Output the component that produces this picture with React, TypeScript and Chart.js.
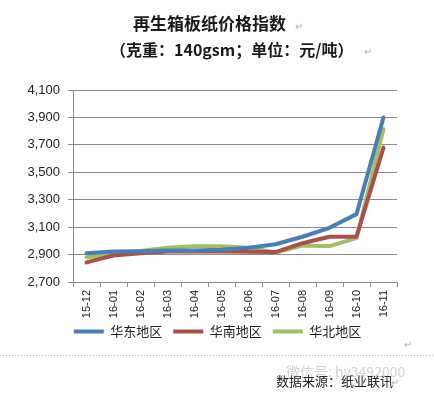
import React, { useEffect, useRef } from "react";
import { Chart, registerables } from "chart.js";

Chart.register(...registerables);

const categories = ["15-12", "16-01", "16-02", "16-03", "16-04", "16-05", "16-06", "16-07", "16-08", "16-09", "16-10", "16-11"];
const eastValues = [2910, 2922, 2925, 2930, 2930, 2935, 2950, 2975, 3030, 3095, 3195, 3900];
const southValues = [2843, 2893, 2910, 2922, 2925, 2922, 2920, 2918, 2983, 3030, 3030, 3680];
const northValues = [2880, 2902, 2927, 2950, 2960, 2960, 2950, 2915, 2965, 2962, 3020, 3815];
const seriesNames = ["华东地区", "华南地区", "华北地区"];
const titleLine1 = "再生箱板纸价格指数";
const titleLine2 = "（克重：140gsm；单位：元/吨）";
const sourceText = "数据来源：纸业联讯";
const watermarkText = "微信号: hy3492000";
const yMin = 2700;
const yMax = 4100;
const yStep = 200;

const CJK = '"Noto Sans CJK SC", "Liberation Sans", sans-serif';
const LATIN = '"Liberation Sans", Arial, sans-serif';

const decorPlugin = {
  id: "decor",
  afterLayout(chart: any) {
    const lg = chart.legend;
    if (lg) {
      lg.left += 19;
      lg.right += 19;
      lg.top -= 12;
      lg.bottom -= 12;
    }
  },
  afterDraw(chart: any) {
    const ctx = chart.ctx;
    ctx.save();
    ctx.fillStyle = "#1a1a1a";
    ctx.textBaseline = "middle";
    ctx.textAlign = "left";
    ctx.font = `bold 17px ${CJK}`;
    ctx.fillText(titleLine1, 133, 24);
    ctx.font = `bold 16px ${CJK}`;
    ctx.fillText(titleLine2, 110, 50);
    // return marks
    ctx.fillStyle = "#b0b0b0";
    ctx.font = `10px ${CJK}`;
    ctx.fillText("↵", 295, 26);
    ctx.fillText("↵", 364, 51);
    ctx.fillText("↵", 404, 344);
    // dotted line
    ctx.strokeStyle = "#b8b8b8";
    ctx.lineWidth = 1;
    ctx.setLineDash([1, 2]);
    ctx.beginPath();
    ctx.moveTo(0, 355.5);
    ctx.lineTo(434, 355.5);
    ctx.stroke();
    ctx.setLineDash([]);
    // watermark
    ctx.fillStyle = "rgba(200,200,200,0.8)";
    ctx.font = `14px ${CJK}`;
    ctx.fillText(watermarkText, 286, 372);
    // source
    ctx.fillStyle = "#222";
    ctx.font = `13px ${CJK}`;
    ctx.fillText(sourceText, 276, 381);
    ctx.fillStyle = "#b0b0b0";
    ctx.font = `10px ${CJK}`;
    ctx.fillText("↵", 391, 382);
    ctx.restore();
  },
};

export default function App() {
  const ref = useRef<HTMLCanvasElement | null>(null);
  useEffect(() => {
    if (!ref.current) return;
    const mk = (label: string, data: number[], color: string) => ({
      label,
      data,
      borderColor: color,
      backgroundColor: color,
      borderWidth: 4,
      pointRadius: 0,
      pointHoverRadius: 0,
      tension: 0,
      fill: false,
      borderCapStyle: "round" as const,
      borderJoinStyle: "round" as const,
      pointStyle: "line" as const,
    });
    const chart = new Chart(ref.current, {
      type: "line",
      data: {
        labels: categories,
        datasets: [
          mk(seriesNames[0], eastValues, "#4a7eb4"),
          mk(seriesNames[1], southValues, "#a8504c"),
          mk(seriesNames[2], northValues, "#a3be66"),
        ],
      },
      options: {
        responsive: false,
        animation: false,
        devicePixelRatio: 1,
        layout: { padding: { left: 0, right: 37, top: 90, bottom: 36 } },
        plugins: {
          title: { display: false },
          tooltip: { enabled: false },
          legend: {
            position: "bottom",
            labels: {
              usePointStyle: true,
              pointStyleWidth: 30,
              boxHeight: 13,
              padding: 11,
              color: "#222",
              font: { family: CJK, size: 13 },
            },
          },
        },
        scales: {
          x: {
            offset: true,
            afterFit: (s: any) => {
              s.height = 44;
            },
            grid: {
              offset: true,
              drawOnChartArea: false,
              drawTicks: true,
              tickLength: 5,
              color: "#8a8a8a",
            },
            border: { color: "#8a8a8a" },
            ticks: {
              minRotation: 90,
              maxRotation: 90,
              autoSkip: false,
              padding: 3,
              color: "#222",
              font: { family: LATIN, size: 11 },
            },
          },
          y: {
            min: yMin,
            max: yMax,
            afterFit: (s: any) => {
              s.width = 73;
            },
            grid: {
              color: "#8a8a8a",
              tickLength: 5,
            },
            border: { color: "#8a8a8a" },
            ticks: {
              stepSize: yStep,
              padding: 8,
              color: "#222",
              font: { family: LATIN, size: 13 },
              callback: (v: any) => Number(v).toLocaleString("en-US"),
            },
          },
        },
      },
      plugins: [decorPlugin],
    });
    return () => chart.destroy();
  }, []);
  return (
    <div style={{ position: "fixed", left: 0, top: 0, width: 434, height: 396, background: "#fff" }}>
      <canvas ref={ref} width={434} height={396} style={{ width: 434, height: 396, display: "block" }} />
    </div>
  );
}
